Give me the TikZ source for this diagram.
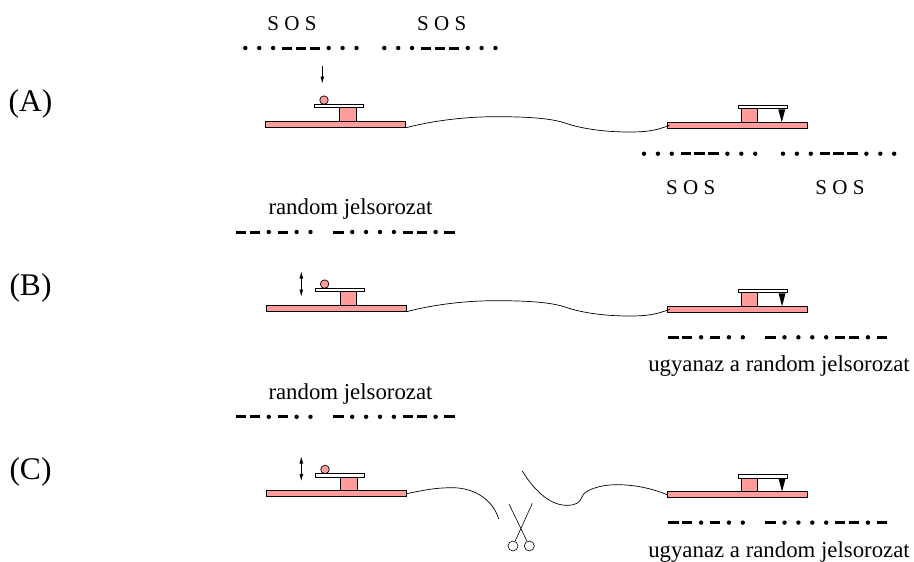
\documentclass[tikz,border=0pt]{standalone}
\usepackage{fontspec}
\setmainfont{Liberation Serif}
\usetikzlibrary{positioning, arrows.meta}

\definecolor{rozsa}{HTML}{FF9C9C}

% jelsorozat: x, y, pontok helye, vonasok helye
\newcommand{\jelsor}[4]{
    \foreach \p in {#3} \fill (#1+13.9*\p,#2) circle (2.2pt);
    \foreach \p in {#4} \fill (#1+13.9*\p-5.2,#2-1.5) rectangle ++(10.4,3);
}

\begin{document}
\begin{tikzpicture}[x=1pt, y=-1pt, >={Latex[length=7pt,width=3.8pt]}]
    % Stili
    \tikzstyle{lap} = [draw, fill=rozsa, rectangle, line width=0.9pt, inner sep=0pt, minimum width=140pt, minimum height=6pt]
    \tikzstyle{tomb} = [draw, fill=rozsa, rectangle, line width=0.9pt, inner sep=0pt, minimum width=16.5pt, minimum height=13.5pt]
    \tikzstyle{kar} = [draw, fill=white, rectangle, line width=0.9pt, inner sep=0pt, minimum width=49pt, minimum height=3.5pt]
    \tikzstyle{golyo} = [draw, fill=rozsa, circle, line width=0.7pt, inner sep=0pt, minimum size=8.5pt]
    \tikzstyle{gyuru} = [draw, circle, line width=0.6pt, inner sep=0pt, minimum size=10pt]
    \tikzstyle{betu} = [anchor=base, inner sep=0pt, font=\fontsize{21}{24}\selectfont]
    \tikzstyle{felirat} = [anchor=base, inner sep=0pt, font=\fontsize{22.8}{26}\selectfont]
    \tikzstyle{sorszam} = [anchor=base, inner sep=0pt, font=\fontsize{31.5}{36}\selectfont]
    \tikzstyle{kabel} = [line width=0.7pt]

    \useasboundingbox (0,0) rectangle (914,562);

    % Adok es vevok
    \foreach \r/\dx/\dj/\dy in {a/0/0/0, b/0.6/0.3/184, c/1/0.3/369.3} {
        \begin{scope}[shift={(\dx,\dy)}]
            \node [lap] (bal\r) at (335.5,124.3) {};
            \node [tomb, above of=bal\r, node distance=9.7pt, xshift=12.3pt] (balt\r) {};
            \node [kar, above of=balt\r, node distance=8.5pt, xshift=-8.5pt] (balk\r) {};
            \node [golyo, above of=balk\r, node distance=6pt, xshift=-15.3pt] (gol\r) {};
        \end{scope}
        \begin{scope}[shift={(\dj,\dy)}]
            \node [lap] (jobb\r) at (737,125.3) {};
            \node [tomb, above of=jobb\r, node distance=9.7pt, xshift=12.3pt] (jobbt\r) {};
            \node [kar, above of=jobbt\r, node distance=8.5pt, xshift=13.5pt] (jobbk\r) {};
            \fill ([xshift=-9.5pt]jobbk\r.south east) -- ([xshift=-2.5pt]jobbk\r.south east) -- ([xshift=-6pt,yshift=-13pt]jobbk\r.south east) -- cycle;
        \end{scope}
    }

    % Kabelek
    \draw [kabel] (bala.south east) .. controls (435,120) and (470,116.5) .. (497,116.7) .. controls (525,116.7) and (550,118) .. (565,123) .. controls (585,130) and (610,132) .. (630,132) .. controls (645,132) and (655,131) .. ([xshift=3pt]jobba.west);
    \draw [kabel] (balb.south east) .. controls (435,304) and (470,300.5) .. (497,300.7) .. controls (525,300.7) and (550,302) .. (565,307) .. controls (585,314) and (610,316) .. (630,316) .. controls (645,316) and (655,315) .. ([xshift=3pt]jobbb.west);
    \coordinate (vega) at (498.7,519);
    \coordinate (vegb) at (522.3,471);
    \draw [kabel] (balc.east) .. controls (425,490) and (435,487.7) .. (453,487.7) .. controls (475,488) and (493,500) .. (vega);
    \draw [kabel] (vegb) .. controls (532,487) and (548,505.3) .. (566.7,505.3) .. controls (575,505.3) and (580,503) .. (582,497) .. controls (584,490) and (600,484.7) .. (617,484.7) .. controls (635,484.7) and (652,488.5) .. (jobbc.west);

    % Nyilak
    \coordinate (nyA) at (322.3,66);
    \coordinate (nyB) at (322.3,83.5);
    \draw [->, line width=0.6pt] (nyA) -- (nyB);
    \coordinate (nyC) at (301.3,271.5);
    \coordinate (nyD) at (301.3,296.5);
    \draw [<->, line width=0.6pt] (nyC) -- (nyD);
    \coordinate (nyE) at (301.3,456.5);
    \coordinate (nyF) at (301.3,481);
    \draw [<->, line width=0.6pt] (nyE) -- (nyF);

    % Ollo
    \node [gyuru] (gy1) at (513,546) {};
    \node [gyuru] (gy2) at (529.3,546) {};
    \coordinate (pen1) at (509,504);
    \coordinate (pen2) at (532.3,503.3);
    \draw [line width=0.6pt] (pen1) -- (gy2);
    \draw [line width=0.6pt] (pen2) -- (gy1);

    % Jelek
    \jelsor{245.3}{48}{0,1,2,6,7,8,10,11,12,16,17,18}{3,4,5,13,14,15}
    \jelsor{644}{153.7}{0,1,2,6,7,8,10,11,12,16,17,18}{3,4,5,13,14,15}
    \jelsor{241}{232}{2,4,5,8,9,10,11,14}{0,1,3,7,12,13,15}
    \jelsor{241}{416.8}{2,4,5,8,9,10,11,14}{0,1,3,7,12,13,15}
    \jelsor{673.3}{337.3}{2,4,5,8,9,10,11,14}{0,1,3,7,12,13,15}
    \jelsor{673.3}{522.6}{2,4,5,8,9,10,11,14}{0,1,3,7,12,13,15}

    % Feliratok
    \node [sorszam] (cimA) at (30.5,111) {(A)};
    \node [sorszam] (cimB) at (30.5,295) {(B)};
    \node [sorszam] (cimC) at (30.5,479) {(C)};
    \node [betu] (sos1) at (292,30.7) {S O S};
    \node [betu] (sos2) at (441.7,30.7) {S O S};
    \node [betu] (sos3) at (690.7,194) {S O S};
    \node [betu] (sos4) at (840,194) {S O S};
    \node [felirat] (rnd1) at (350.5,214) {random jelsorozat};
    \node [felirat] (rnd2) at (350.5,399) {random jelsorozat};
    \node [felirat] (ugy1) at (779,371.7) {ugyanaz a random jelsorozat};
    \node [felirat] (ugy2) at (779,557) {ugyanaz a random jelsorozat};
\end{tikzpicture}
\end{document}
